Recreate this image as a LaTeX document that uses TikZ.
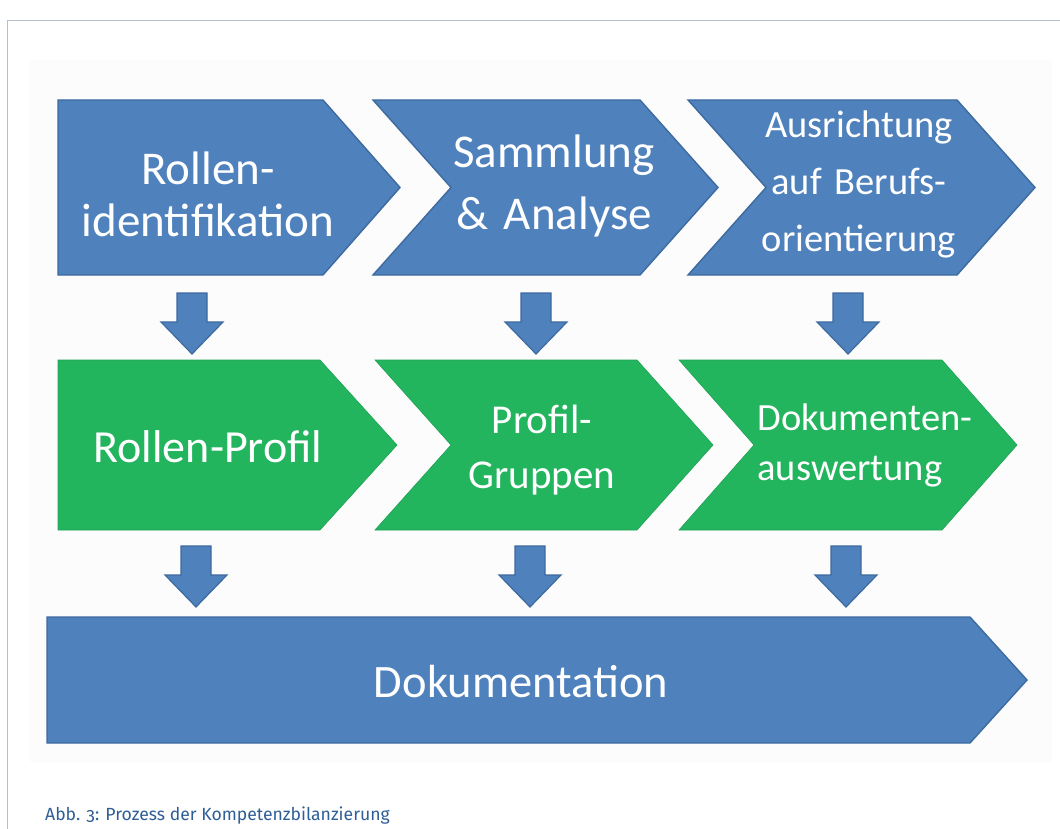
\documentclass[tikz,border=0pt]{standalone}
\usepackage{fontspec}
\setmainfont{Carlito}
\newfontfamily\capfont[Numbers=OldStyle]{Fira Sans}
\definecolor{bfill}{HTML}{4F81BD}
\definecolor{bedge}{HTML}{3D6A9F}
\definecolor{gfill}{HTML}{23B45E}
\definecolor{capblue}{HTML}{2F5E97}
\definecolor{frame}{HTML}{B4C1CD}
\definecolor{paleback}{HTML}{FCFCFD}
\tikzset{
  bluebox/.style={fill=bfill, draw=bedge, line width=1.4pt, line join=miter},
  greenbox/.style={fill=gfill, draw=gfill!90!black, line width=0.6pt},
  downarrow/.style={fill=bfill, draw=bedge, line width=1.2pt, line join=miter},
  lbl/.style={text=white, anchor=base, inner sep=0pt, text width=320pt, align=center},
}
\newcommand{\chev}[7]{% style, L, F, tip, T, B, notch(0/1)
  \pgfmathsetmacro{\mymid}{(#5+#6)/2}
  \pgfmathsetmacro{\mydep}{#4-#3}
  \ifnum#7=1
    \draw[#1] (#2,#5) -- (#3,#5) -- (#4,\mymid) -- (#3,#6) -- (#2,#6) -- ({#2+\mydep},\mymid) -- cycle;
  \else
    \draw[#1] (#2,#5) -- (#3,#5) -- (#4,\mymid) -- (#3,#6) -- (#2,#6) -- cycle;
  \fi}
\newcommand{\darrow}[4]{% cx, top, headbase, tip
  \draw[downarrow] ({#1-15},#2) -- ({#1+15},#2) -- ({#1+15},#3) -- ({#1+31},#3) -- (#1,#4)
     -- ({#1-31},#3) -- ({#1-15},#3) -- cycle;}
\begin{document}
\begin{tikzpicture}[x=1pt,y=-1pt]
\useasboundingbox (0,0) rectangle (1060,829);
\fill[white] (0,0) rectangle (1060,829);
\fill[paleback] (30,60) rectangle (1052,762);
\draw[frame, line width=1pt] (7,829) -- (7,21) -- (1060,21);
% row 1
\chev{bluebox}{58}{323}{400}{100}{275}{0}
\chev{bluebox}{373}{640}{718}{100}{275}{1}
\chev{bluebox}{688}{957}{1035}{100}{275}{1}
% row 2
\chev{greenbox}{58}{320}{397}{360}{530}{0}
\chev{greenbox}{375}{637}{713}{360}{530}{1}
\chev{greenbox}{679}{942}{1017}{360}{530}{1}
% row 3
\chev{bluebox}{47}{970}{1027}{617}{743}{0}
% arrows
\darrow{192}{293}{322}{354}
\darrow{536}{293}{322}{354}
\darrow{848}{293}{322}{354}
\darrow{196}{546}{575}{607}
\darrow{530}{546}{575}{607}
\darrow{846}{546}{575}{607}
% labels
\node[lbl, font=\fontsize{47}{52}\selectfont] (t1) at (208,185) {Rollen-\\identifikation};
\node[lbl, font=\fontsize{47}{62}\selectfont] (t2) at (554,168) {Sammlung\\\& Analyse};
\node[lbl, font=\fontsize{38.5}{57}\selectfont] (t3) at (859,138) {Ausrichtung\\auf Berufs-\\orientierung};
\node[lbl, font=\fontsize{46}{55}\selectfont] (g1) at (208,462) {Rollen-Profil};
\node[lbl, font=\fontsize{41}{55}\selectfont] (g2) at (542,433) {Profil-\\Gruppen};
\node[lbl, font=\fontsize{38.5}{50}\selectfont, text width=215pt, align=left] (g3) at (865,430) {Dokumenten-\\auswertung};
\node[lbl, font=\fontsize{46.5}{55}\selectfont] (d1) at (521,697) {Dokumentation};
\node[anchor=base west, inner sep=0pt, text=capblue, font=\capfont\fontsize{17.6}{21}\selectfont] (cap) at (45,820) {Abb. 3: Prozess der Kompetenzbilanzierung};
\end{tikzpicture}
\end{document}
